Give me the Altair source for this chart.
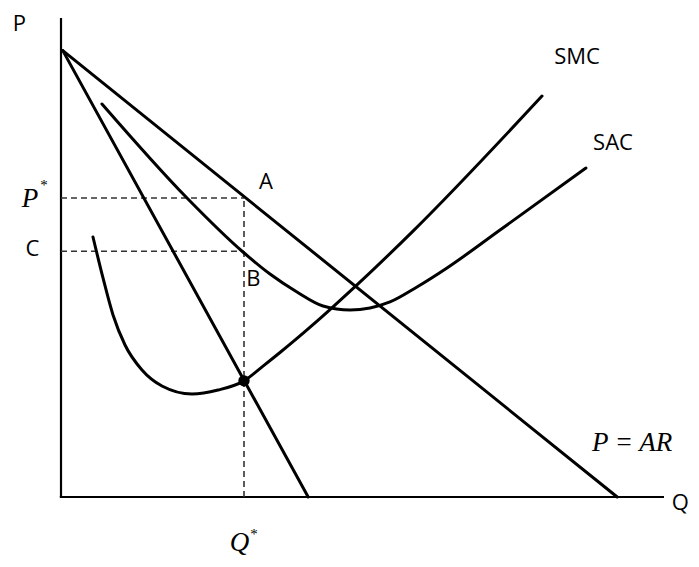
import altair as alt
import pandas as pd

# ---- data (Q, P units) ----
demand_q = [0.3, 92.7]
demand_p = [93.0, 0.0]
mr_q = [0.3, 41.2]
mr_p = [93.0, 0.0]
sac_q = [6.83, 21.0, 30.33, 34.83, 39.33, 43.67, 48.17, 51.5, 54.83, 59.33, 64.33, 73.17, 87.5]
sac_p = [81.88, 62.29, 51.04, 46.46, 42.71, 39.79, 38.96, 39.38, 40.63, 43.75, 47.71, 55.63, 68.54]
smc_q = [5.33, 7.0, 8.67, 10.67, 13.5, 16.83, 21.83, 26.17, 30.5, 33.67, 36.5, 39.33, 42.0,
         44.83, 49.33, 58.67, 80.17]
smc_p = [54.17, 45.63, 37.92, 31.67, 26.46, 23.13, 21.46, 22.29, 24.2, 27.27, 30.1, 33.04, 35.92,
         39.06, 44.19, 55.4, 83.54]

q_star = 30.5
p_star = 62.3
c_val = 51.2
dot_p = 24.2

axis_q = [0.0, 0.0, -0.2, 100.5]
axis_p = [0.0, 99.8, 0.0, 0.0]

sans_text = ["P", "C", "A", "B", "SMC", "SAC", "Q"]
sans_q = [-6.92, -4.75, 34.17, 32.08, 86.0, 92.0, 103.2]
sans_p = [98.44, 51.67, 65.69, 45.42, 91.77, 73.65, -1.35]

serif_text = ["P", "Q", "P = AR"]
serif_q = [-5.17, 29.75, 95.17]
serif_p = [60.42, -11.25, 9.58]

star_q = [-2.83, 32.17]
star_p = [65.0, -7.7]

# ---- scales ----
xs = alt.Scale(domain=[0, 100])
ys = alt.Scale(domain=[0, 100])


def X(f="q"):
    return alt.X(f"{f}:Q", scale=xs, axis=None)


def Y(f="p"):
    return alt.Y(f"{f}:Q", scale=ys, axis=None)


def curve(qs, ps, interp="linear", width=3):
    df = pd.DataFrame({"q": qs, "p": ps, "o": list(range(len(qs)))})
    return alt.Chart(df).mark_line(
        color="black", strokeWidth=width, interpolate=interp, strokeCap="round"
    ).encode(x=X(), y=Y(), order="o:Q")


axes_df = pd.DataFrame({
    "q": [axis_q[0], axis_q[2]], "p": [axis_p[0], axis_p[2]],
    "q2": [axis_q[1], axis_q[3]], "p2": [axis_p[1], axis_p[3]],
})
axes = alt.Chart(axes_df).mark_rule(color="black", strokeWidth=2.2).encode(
    x=X(), y=Y(), x2="q2:Q", y2="p2:Q"
)

dash_df = pd.DataFrame({
    "q": [0.0, 0.0, q_star], "p": [p_star, c_val, 0.0],
    "q2": [q_star, q_star, q_star], "p2": [p_star, c_val, p_star],
})
dashes = alt.Chart(dash_df).mark_rule(
    color="#333333", strokeWidth=1.6, strokeDash=[6, 4]
).encode(x=X(), y=Y(), x2="q2:Q", y2="p2:Q")

dot = alt.Chart(pd.DataFrame({"q": [q_star], "p": [dot_p]})).mark_circle(
    color="black", size=130, opacity=1
).encode(x=X(), y=Y())

sans = alt.Chart(pd.DataFrame({"t": sans_text, "q": sans_q, "p": sans_p})).mark_text(
    font="Open Sans", fontSize=22, color="black", align="center", baseline="middle"
).encode(x=X(), y=Y(), text="t:N")

serif = alt.Chart(pd.DataFrame({"t": serif_text, "q": serif_q, "p": serif_p})).mark_text(
    font="Liberation Serif", fontStyle="italic", fontSize=27, color="black",
    align="center", baseline="alphabetic"
).encode(x=X(), y=Y(), text="t:N")

stars = alt.Chart(pd.DataFrame({"t": ["*", "*"], "q": star_q, "p": star_p})).mark_text(
    font="Liberation Serif", fontSize=15, color="black", align="center", baseline="middle"
).encode(x=X(), y=Y(), text="t:N")

chart = alt.layer(
    axes,
    dashes,
    curve(demand_q, demand_p),
    curve(mr_q, mr_p),
    curve(sac_q, sac_p, "monotone"),
    curve(smc_q, smc_p, "monotone"),
    dot,
    sans,
    serif,
    stars,
).properties(
    width=600, height=480,
    padding={"left": 53, "top": 9, "right": 30, "bottom": 62},
    autosize=alt.AutoSizeParams(type="none"),
).configure_view(stroke=None)

chart.save("out.html", embed_options={"renderer": "svg", "actions": False})
